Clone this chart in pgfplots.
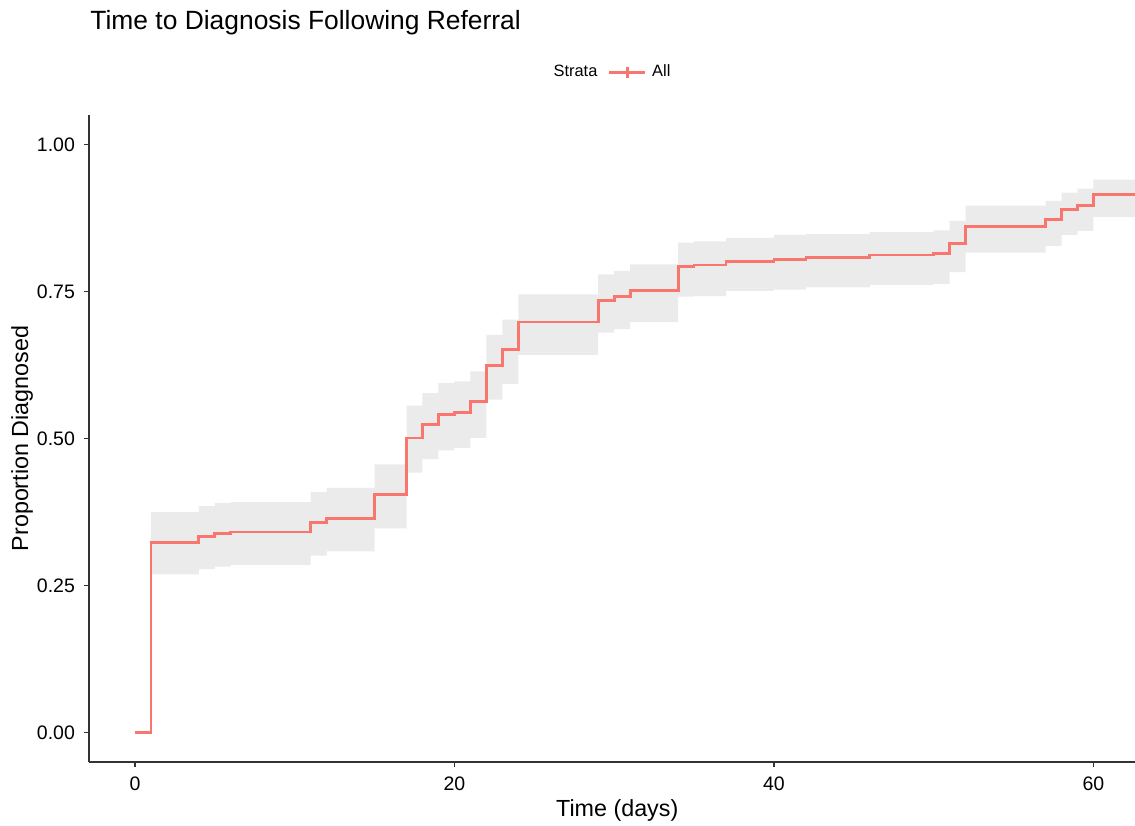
\documentclass[border=0pt]{standalone}
\usepackage{pgfplots}
\pgfplotsset{compat=1.18}
\usepackage{pgfplotstable}
\usepgfplotslibrary{fillbetween}
\usepackage{fontspec}
\setmainfont{Liberation Sans}

\definecolor{kmred}{HTML}{F8766D}
\definecolor{bandgrey}{HTML}{EBEBEB}
\definecolor{axgrey}{HTML}{333333}

% time, proportion, upper and lower limits
\pgfplotstableread{
t     s      up     lo
0     0      0      0
1     0.323  0.375  0.269
4     0.333  0.385  0.278
5     0.339  0.390  0.282
6     0.341  0.392  0.285
11    0.357  0.409  0.301
12    0.364  0.416  0.308
15    0.405  0.456  0.347
17    0.501  0.556  0.442
18    0.524  0.577  0.465
19    0.541  0.594  0.480
20    0.544  0.597  0.484
21    0.563  0.614  0.501
22    0.624  0.676  0.566
23    0.651  0.702  0.593
24    0.698  0.745  0.642
29    0.734  0.779  0.680
30    0.741  0.785  0.686
31    0.752  0.796  0.698
34    0.792  0.833  0.741
35    0.795  0.835  0.742
37    0.801  0.841  0.751
40    0.804  0.846  0.753
42    0.808  0.848  0.757
46    0.812  0.851  0.761
50    0.814  0.854  0.763
51    0.831  0.870  0.783
52    0.861  0.896  0.816
57    0.873  0.904  0.827
58    0.889  0.918  0.846
59    0.896  0.925  0.853
60    0.915  0.940  0.877
62.6  0.915  0.940  0.877
}\kmdata

\begin{document}
\begin{tikzpicture}
\begin{axis}[
    at={(0,0)}, anchor=south west,
    scale only axis,
    width=523pt, height=323.5pt,
    xmin=-2.875, xmax=62.6,
    ymin=-0.05, ymax=1.05,
    axis lines=left,
    axis line style={-, axgrey, line width=0.7pt},
    xtick={0,20,40,60},
    ytick={0,0.25,0.5,0.75,1},
    yticklabel style={/pgf/number format/fixed, /pgf/number format/fixed zerofill, /pgf/number format/precision=2},
    /pgf/number format/assume math mode=true,
    tick style={axgrey, line width=0.6pt},
    tick align=outside,
    major tick length=2.5pt,
    ticklabel style={font=\fontsize{9.75}{11}\selectfont, text=black},
    xticklabel style={yshift=-1.5pt},
    yticklabel style={xshift=-1pt},
    xlabel={Time (days)},
    ylabel={Proportion Diagnosed},
    every axis x label/.style={at={(axis description cs:0.505,-0.0742)}, anchor=center,
        font=\fontsize{11.65}{13}\selectfont},
    every axis y label/.style={at={(axis description cs:-0.064,0.5)}, anchor=center, rotate=90,
        font=\fontsize{11.65}{13}\selectfont},
    clip=false,
    legend columns=2,
    legend style={
        at={(axis description cs:0.5,1.066)}, anchor=center,
        draw=none, fill=none,
        font=\fontsize{8.2}{9.5}\selectfont,
        /tikz/every even column/.append style={column sep=2pt},
        /tikz/every odd column/.append style={column sep=0pt},
        nodes={inner xsep=3pt},
    },
    legend cell align=left,
]
% --- confidence band ---
\addplot[name path=up, const plot, draw=none, forget plot]
    table[x=t, y=up, skip coords between index={0}{1}] {\kmdata};
\addplot[name path=lo, const plot, draw=none, forget plot]
    table[x=t, y=lo, skip coords between index={0}{1}] {\kmdata};
\addplot[bandgrey, forget plot] fill between[of=up and lo];

% --- legend title ---
\addlegendimage{empty legend}
\addlegendentry{Strata}

% --- step curve ---
\addplot[const plot, kmred, line width=1.4pt,
    legend image code/.code={
        \draw[kmred, line width=1.4pt] (3.5pt,0pt) -- (15pt,0pt);
        \draw[kmred, line width=1.4pt] (9.25pt,-2.75pt) -- (9.25pt,2.75pt);
        \path (0pt,0pt) -- (18pt,0pt);
    }]
    table[x=t, y=s] {\kmdata};
\addlegendentry{All}

\node[anchor=base west, inner sep=0pt, font=\fontsize{13.2}{15}\selectfont]
    at (axis description cs:0.001,1.1314) {Time to Diagnosis Following Referral};
\end{axis}
\pgfresetboundingbox
\path (-44.5pt,-31.5pt) rectangle (523pt,381pt);
\end{tikzpicture}
\end{document}
